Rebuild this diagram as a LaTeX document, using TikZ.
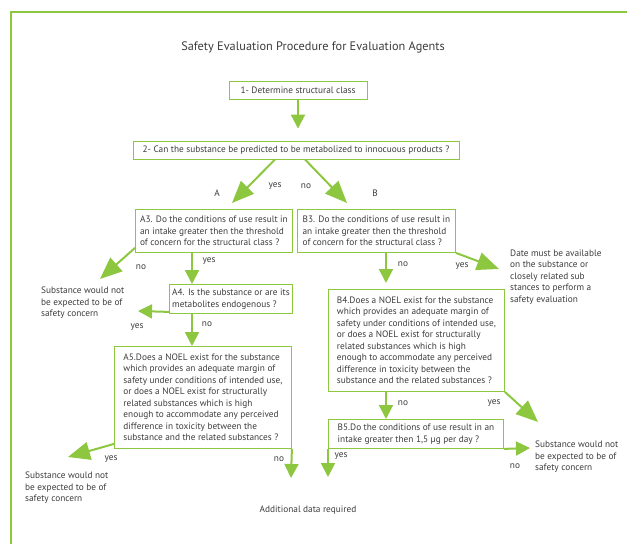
\documentclass[tikz,border=0pt]{standalone}
\usepackage{fontspec}
\setmainfont{PT Sans}
\usetikzlibrary{positioning, arrows.meta}
\definecolor{leaf}{RGB}{141,198,63}
\definecolor{ink}{RGB}{60,60,60}

\begin{document}
\begin{tikzpicture}[
      x=1pt, y=-1pt,
      every node/.style={font=\fontsize{9.3}{11.5}\selectfont, text=ink},
      qbox/.style={draw=leaf, line width=0.9pt, align=left, inner xsep=1.5pt, anchor=north west},
      note/.style={align=left, anchor=west, inner sep=0pt},
      flow/.style={draw=leaf, line width=2pt, -{Triangle[length=14pt,width=14pt]}},
      bigflow/.style={flow, -{Triangle[length=22pt,width=18pt]}}
    ]
    \useasboundingbox (0,0) rectangle (627,544);
    \draw[leaf, line width=2.5pt] (11,544) -- (11,12) -- (627,12);

    \node[font=\fontsize{12.3}{14}\selectfont] (title) at (313,47)
      {Safety Evaluation Procedure for Evaluation Agents};

    \node[qbox, anchor=center, minimum width=138pt, minimum height=18pt] (q1) at (298,90)
      {1- Determine structural class};
    \node[qbox, anchor=center, minimum width=326pt, minimum height=18pt] (q2) at (296,150)
      {2- Can the substance be predicted to be metabolized to innocuous products ?};

    % branch A
    \node[qbox, minimum width=157pt, minimum height=43pt] (a3) at (135,209)
      {A3. Do the conditions of use result in\\an intake greater then the threshold\\of concern for the structural class ?};
    \node[qbox, minimum width=123pt, minimum height=29pt] (a4) at (169,284)
      {A4. Is the substance or are its\\metabolites endogenous ?};
    \node[qbox, minimum width=177pt, minimum height=102pt] (a5) at (114,346)
      {A5.Does a NOEL exist for the substance\\which provides an adequate margin of\\safety under conditions of intended use,\\or does a NOEL exist for structurally\\related substances which is high\\enough to accommodate any perceived\\difference in toxicity between the\\substance and the related substances ?};

    % branch B
    \node[qbox, minimum width=158pt, minimum height=43pt] (b3) at (297,209)
      {B3. Do the conditions of use result in\\an intake greater then the threshold\\of concern for the structural class ?};
    \node[qbox, minimum width=176pt, minimum height=102pt] (b4) at (328,289)
      {B4.Does a NOEL exist for the substance\\which provides an adequate margin of\\safety under conditions of intended use,\\or does a NOEL exist for structurally\\related substances which is high\\enough to accommodate any perceived\\difference in toxicity between the\\substance and the related substances ?};
    \node[qbox, minimum width=175pt, minimum height=29pt] (b5) at (328,419)
      {B5.Do the conditions of use result in an\\intake greater then 1,5 µg per day ?};

    % outcomes
    \node[note] (safeA3) at (41,303) {Substance would not\\be expected to be of\\safety concern};
    \node[note] (safeA5) at (25,488) {Substance would not\\be expected to be of\\safety concern};
    \node[note] (safeB5) at (535,457) {Substance would not\\be expected to be of\\safety concern};
    \node[note] (dataB3) at (510,277) {Date must be available\\on the substance or\\closely related sub\\stances to perform a\\safety evaluation};
    \node (more) at (308,510) {Additional data required};

    \coordinate (tipA) at (232,203);
    \coordinate (tipB) at (347,203);
    \coordinate (endA3) at (100,279);
    \coordinate (endA4) at (138,311);
    \coordinate (endA5y) at (68,457);
    \coordinate (endA5n) at (291,478);
    \coordinate (endB3) at (499,269);
    \coordinate (endB4) at (538,422);
    \coordinate (endB5n) at (530,448);
    \coordinate (endB5y) at (328,477);

    \draw[flow, shorten >=12pt] (q1.south) -- (q1.south |- q2.north);
    \draw[bigflow] ([xshift=-21pt]q2.south) -- (tipA);
    \draw[bigflow] ([xshift=9pt]q2.south) -- (tipB);
    \draw[bigflow] ([yshift=5pt]a3.south west) -- (endA3);
    \draw[flow] ([xshift=57pt]a3.south west) -- ([xshift=57pt]a3.south west |- a4.north);
    \draw[flow] ([yshift=2pt]a4.south west) -- (endA4);
    \draw[flow] ([xshift=23pt]a4.south west) -- ([xshift=23pt]a4.south west |- a5.north);
    \draw[bigflow] ([yshift=5pt]a5.south west) -- (endA5y);
    \draw[flow] (a5.south east) -- (endA5n);
    \draw[flow, shorten >=6pt] ([xshift=89pt]b3.south west) -- ([xshift=89pt]b3.south west |- b4.north);
    \draw[bigflow] (b3.south east) -- (endB3);
    \draw[flow] ([xshift=58pt]b4.south west) -- ([xshift=58pt]b4.south west |- b5.north);
    \draw[bigflow] (b4.south east) -- (endB4);
    \draw[flow] (b5.south east) -- (endB5n);
    \draw[flow] (b5.south west) -- (endB5y);

    \node (lA) at (217,193) {A};
    \node (lB) at (375,193) {B};
    \node (yesA) at (275,186) {yes};
    \node (noB) at (306,186) {no};
    \node (noA3) at (141,267) {no};
    \node (yesA3) at (209,261) {yes};
    \node (yesA4) at (137,327) {yes};
    \node (noA4) at (207,324) {no};
    \node (yesA5) at (111,459) {yes};
    \node (noA5) at (279,459) {no};
    \node (noB3) at (403,264) {no};
    \node (yesB3) at (462,266) {yes};
    \node (noB4) at (403,403) {no};
    \node (yesB4) at (494,403) {yes};
    \node (yesB5) at (341,456) {yes};
    \node (noB5) at (515,466) {no};
  \end{tikzpicture}
\end{document}
